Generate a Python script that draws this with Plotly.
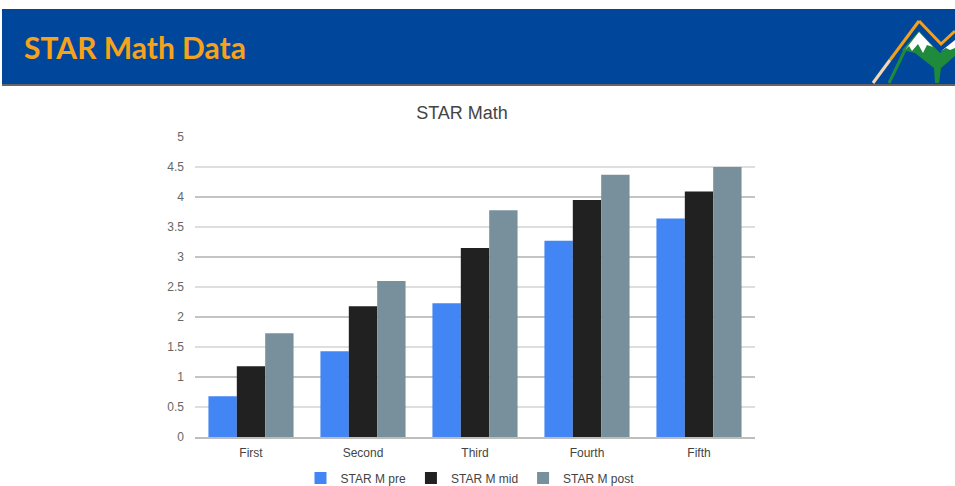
import plotly.graph_objects as go

categories = ["First", "Second", "Third", "Fourth", "Fifth"]
pre_values = [0.68, 1.43, 2.23, 3.27, 3.64]
mid_values = [1.18, 2.18, 3.15, 3.95, 4.09]
post_values = [1.73, 2.60, 3.78, 4.37, 4.50]
series_names = ["STAR M pre", "STAR M mid", "STAR M post"]
series_colors = ["#4285F4", "#212121", "#78909C"]
y_tickvals = [0, 0.5, 1, 1.5, 2, 2.5, 3, 3.5, 4, 4.5, 5]
y_ticktext = ["0", "0.5", "1", "1.5", "2", "2.5", "3", "3.5", "4", "4.5", "5"]
major_tickvals = [0, 1, 2, 3, 4, 5]

W, H = 955, 486
L, R, T, B = 195, 200, 137, 49
PW, PH = W - L - R, H - T - B


def px(x):
    return (x - L) / PW


def py(y):
    return (H - B - y) / PH


fig = go.Figure()
# helper trace so the integer-grid overlay axis is drawn
fig.add_trace(go.Scatter(x=[], y=[], yaxis="y2", showlegend=False, hoverinfo="skip"))
for name, vals, col in zip(series_names, [pre_values, mid_values, post_values], series_colors):
    fig.add_trace(go.Bar(x=categories, y=vals, name=name, marker=dict(color=col, line=dict(width=0))))

# Header banner and logo (decoration)
shapes = [
    dict(type="rect", xref="paper", yref="paper", x0=px(2), x1=px(955), y0=py(84), y1=py(9),
         fillcolor="#00479B", line=dict(width=0), layer="above"),
    dict(type="line", xref="paper", yref="paper", x0=px(2), x1=px(955), y0=py(85), y1=py(85),
         line=dict(color="#666666", width=2), layer="above"),
]


def path(points, close=True):
    s = "M " + " L ".join(f"{px(x):.5f},{py(y):.5f}" for x, y in points)
    return s + (" Z" if close else "")


# green mountain body
shapes.append(dict(type="path", xref="paper", yref="paper",
                   path=path([(902, 50), (919, 31), (940, 53), (955, 41), (955, 56), (941, 68),
                              (939, 83), (935, 83), (934, 68), (915, 53)]),
                   fillcolor="#1E8A3C", line=dict(width=0), layer="above"))
# green left leg
shapes.append(dict(type="path", xref="paper", yref="paper",
                   path=path([(905, 50), (889, 83)], close=False),
                   line=dict(color="#1E8A3C", width=3), layer="above"))
# snow caps
shapes.append(dict(type="path", xref="paper", yref="paper",
                   path=path([(905, 50), (919, 32), (933, 47), (927, 45), (923, 53), (918, 44),
                              (912, 51), (909, 46)]),
                   fillcolor="#FFFFFF", line=dict(width=0), layer="above"))
shapes.append(dict(type="path", xref="paper", yref="paper",
                   path=path([(940, 52), (955, 40), (955, 48), (950, 50), (946, 48)]),
                   fillcolor="#FFFFFF", line=dict(width=0), layer="above"))
# orange outline
shapes.append(dict(type="path", xref="paper", yref="paper",
                   path=path([(919, 21), (941, 44), (955, 31)], close=False),
                   line=dict(color="#F5A01A", width=3), layer="above"))
shapes.append(dict(type="path", xref="paper", yref="paper",
                   path=path([(919, 21), (890, 60)], close=False),
                   line=dict(color="#F5A01A", width=3), layer="above"))
shapes.append(dict(type="path", xref="paper", yref="paper",
                   path=path([(890, 60), (873, 83)], close=False),
                   line=dict(color="#F3D7AE", width=3), layer="above"))

annotations = [
    dict(text="<b>STAR Math Data</b>", xref="paper", yref="paper", x=px(22), y=py(47),
         xanchor="left", yanchor="middle", showarrow=False,
         font=dict(family="Lato, Open Sans, sans-serif", size=30, color="#F7A21B")),
]

fig.update_layout(
    width=W, height=H,
    margin=dict(l=L, r=R, t=T, b=B, pad=0, autoexpand=False),
    paper_bgcolor="white", plot_bgcolor="white",
    font=dict(family="Liberation Sans, Arial, sans-serif", size=12, color="#444444"),
    title=dict(text="STAR Math", x=px(462), xref="paper", xanchor="center",
               y=1 - 113 / H, yref="container", yanchor="middle",
               font=dict(size=18, color="#444444")),
    barmode="group", bargap=0.24, bargroupgap=0,
    xaxis=dict(showgrid=False, showline=True, linecolor="#BDBDBD", linewidth=1.5,
               ticks="", ticklabelstandoff=4, tickfont=dict(size=12, color="#444444")),
    yaxis=dict(range=[0, 5], tickvals=y_tickvals, ticktext=y_ticktext, showgrid=True,
               gridcolor="#DEDEDE", gridwidth=1.5, zeroline=False, showline=False,
               ticks="", ticklabelstandoff=10, tickfont=dict(size=12, color="#666666")),
    yaxis2=dict(range=[0, 5], overlaying="y", anchor="x", tickvals=major_tickvals,
                showticklabels=False, showgrid=True, gridcolor="#C4C4C4", gridwidth=1.5,
                zeroline=False, showline=False, ticks=""),
    legend=dict(orientation="h", x=px(470), xanchor="center", yref="container",
                y=1 - 478 / H, yanchor="middle",
                font=dict(size=12, color="#444444"), itemwidth=30, traceorder="normal"),
    shapes=shapes,
    annotations=annotations,
)

fig.write_html("out.html", config={"displayModeBar": False},
               post_script="document.body.style.margin='0';")
